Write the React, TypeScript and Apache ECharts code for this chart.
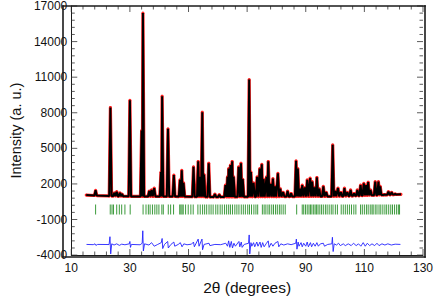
import React, { useEffect, useRef } from 'react';
import * as echarts from 'echarts';

// Measured range (2θ)
const scanStart = 15.1;
const scanEnd = 122.5;

// Background level
const bgTheta = [15.1, 20, 30, 45, 60, 80, 100, 122.5];
const bgInt = [1060, 1000, 950, 940, 900, 930, 950, 1120];

// Reflections: position (2θ) and peak intensity
const peakTheta = [
  18.3, 23.35, 24.7, 25.5, 26.6, 27.3, 30.0, 34.0, 34.45, 36.6, 37.4, 38.3, 40.6, 41.0, 43.0, 45.0,
  47.1, 47.7, 48.3, 51.7, 53.3, 53.9, 54.7, 55.3, 56.9, 59.0, 60.5, 62.6, 63.3, 63.7, 64.3, 64.9,
  65.4, 67.1, 67.9, 68.5, 70.7, 71.3, 72.2, 73.4, 74.3, 75.0, 75.6, 76.6, 77.2, 78.0, 78.8, 79.5,
  80.5, 81.3, 82.3, 83.8, 85.0, 86.7, 87.3, 88.0, 88.8, 89.7, 90.5, 91.5, 92.2, 93.0, 93.8, 94.6,
  96.0, 97.0, 99.2, 100.0, 101.0, 102.0, 103.2, 104.2, 105.3, 106.5, 107.6, 108.7, 109.8, 110.6,
  111.3, 112.1, 113.7, 114.8, 115.4, 116.8, 118.2, 119.3, 120.5,
];
const peakHeight = [
  1460, 8450, 1250, 1350, 1250, 1150, 9050, 6500, 16400, 1400, 1500, 1650, 3000, 9400, 6650, 2750,
  2350, 3150, 2100, 3450, 3900, 2600, 8050, 2800, 3750, 1150, 1100, 1900, 2600, 3300, 3600, 3900,
  2600, 3450, 3750, 2400, 10800, 3000, 2100, 2600, 3300, 3650, 2400, 2600, 3900, 2000, 2450, 1800,
  2900, 1600, 1300, 1400, 1200, 3950, 3300, 1600, 1900, 1700, 2350, 2500, 2200, 1700, 2550, 1600,
  1800, 1300, 5300, 1400, 1650, 1300, 1650, 1300, 1500, 1200, 1500, 1900, 2050, 1900,
  2150, 1500, 2200, 2200, 1800, 1100, 1350, 1300, 1150,
];

// Bragg reflection markers (2θ)
const braggTheta = [
  18.3, 23.3, 23.9, 24.4, 25.5, 26.4, 27.2, 28.3, 30.1, 34.5, 35.5, 36.3, 36.9, 37.7, 38.5, 39.2,
  39.9, 40.9, 41.4, 43.1, 43.9, 44.9, 47.0, 47.4, 47.8, 48.2, 49.0, 49.9, 50.8, 51.6, 53.2, 54.0,
  54.8, 55.5, 56.2, 57.0, 57.7, 58.4, 59.3, 60.0, 60.8, 61.5, 62.3, 63.0, 63.7, 64.3, 65.0, 65.8,
  66.5, 67.2, 68.0, 68.7, 69.4, 70.2, 70.8, 71.5, 72.3, 73.0, 73.6, 75.2, 75.8, 76.4, 77.1, 77.7,
  78.4, 79.0, 79.7, 80.3, 81.0, 81.6, 82.3, 83.0, 86.9, 88.8, 89.3, 89.9, 90.5, 91.1, 91.6, 92.1,
  92.7, 93.2, 93.7, 94.2, 94.8, 95.4, 96.0, 96.7, 97.3, 98.0, 98.7, 99.3, 100.1, 100.8, 102.1,
  102.8, 103.5, 104.2, 104.9, 105.6, 106.4, 107.1, 108.7, 109.3, 110.0, 110.7, 111.3, 112.0, 112.6,
  113.0, 113.7, 114.3, 115.0, 115.6, 116.3, 117.0, 117.6, 118.3, 119.0, 119.6, 120.3, 121.0, 121.6,
  122.0,
];
const braggLevel = -150;

// Difference curve (Yobs - Ycalc, offset)
const diffTheta = [
  15.2, 17.5, 18.1, 18.4, 19.0, 22.9, 23.2, 23.45, 23.8, 24.6, 25.5, 26.4, 27.2, 28.3, 29.8, 30.0,
  30.2, 30.5, 33.5, 34.2, 34.4, 34.6, 35.0, 36.5, 37.4, 38.3, 39.5, 40.7, 41.0, 41.2, 41.8, 42.9,
  43.1, 44.0, 45.0, 45.3, 46.5, 47.2, 47.8, 48.4, 49.5, 51.0, 51.7, 52.0, 53.3, 53.6, 54.6, 54.8,
  55.3, 57.0, 57.3, 59.0, 61.0, 62.7, 63.3, 63.7, 64.1, 64.6, 65.0, 65.5, 66.0, 67.2, 67.5, 68.0,
  68.3, 69.0, 70.5, 70.7, 70.9, 71.3, 71.6, 72.2, 72.6, 73.3, 73.7, 74.4, 74.8, 75.3, 75.8, 76.6,
  77.2, 77.5, 78.2, 78.8, 79.5, 80.5, 80.8, 81.5, 82.5, 83.8, 85.0, 86.6, 86.8, 87.0, 87.4, 87.7,
  88.4, 88.8, 89.3, 90.0, 90.5, 90.9, 91.6, 92.0, 92.6, 93.2, 93.8, 94.3, 95.0, 96.0, 96.4, 97.5,
  98.9, 99.1, 99.35, 99.7, 100.5, 101.2, 101.8, 102.8, 103.5, 104.5, 105.5, 106.3, 107.2, 108.0,
  108.8, 109.6, 110.3, 111.0, 111.8, 112.6, 113.5, 114.3, 115.0, 116.0, 117.0, 118.0, 119.2, 120.5,
  122.3,
];
const diffInt = [
  -3100, -3120, -3050, -3180, -3100, -3110, -2450, -3900, -3050, -3150, -3050, -3180, -3080, -3130, -3050, -2850,
  -3350, -3100, -3130, -3000, -1950, -3650, -3050, -3150, -2950, -3250, -3100, -2950, -2600, -3450, -3100, -2850,
  -3400, -3100, -2900, -3250, -3100, -2950, -3300, -3050, -3130, -3080, -2900, -3300, -2650, -3250, -2650, -3550,
  -3100, -3000, -3200, -3100, -3120, -3000, -3250, -2800, -3350, -2850, -3400, -3000, -3250, -2850, -3300, -2900,
  -3350, -3100, -3000, -2300, -3900, -2950, -3250, -2950, -3300, -2900, -3250, -2900, -3350, -2950, -3300, -3000,
  -2800, -3350, -3000, -3250, -3000, -2850, -3300, -3050, -3150, -3050, -3120, -3000, -2650, -3500, -2900, -3250,
  -2950, -3300, -3000, -3250, -2900, -3300, -2950, -3300, -3000, -3250, -2950, -3250, -3050, -3000, -3250, -3100,
  -3050, -2500, -3700, -3050, -3150, -3000, -3200, -3050, -3200, -3050, -3200, -3000, -3200, -3050,
  -3250, -2950, -3250, -3000, -3200, -3050, -3200, -3000, -3200, -3050, -3150, -3050, -3150, -3080,
  -3100,
];

// Axis extents and tick positions
const xMin = 10, xMax = 130, xStep = 20;
const yMin = -4000, yMax = 17000, yStep = 3000;
const xMajorTicks = [10, 30, 50, 70, 90, 110, 130];
const xMinorTicks = [14, 18, 22, 26, 34, 38, 42, 46, 54, 58, 62, 66, 74, 78, 82, 86, 94, 98, 102, 106, 114, 118, 122, 126];
const yMajorTicks = [-4000, -1000, 2000, 5000, 8000, 11000, 14000, 17000];
const yMinorTicks = [
  -3400, -2800, -2200, -1600, -400, 200, 800, 1400, 2600, 3200, 3800, 4400, 5600, 6200, 6800, 7400,
  8600, 9200, 9800, 10400, 11600, 12200, 12800, 13400, 14600, 15200, 15800, 16400,
];

const FONT = 'Arial, "Liberation Sans", Helvetica, sans-serif';
const G = { left: 63, right: 11, top: 6, bottom: 43 };
const W = 436, H = 300;
const FRAME = '#1a1a1a';
const TICK = '#333';

function bgAt(t: number): number {
  for (let i = 0; i < bgTheta.length - 1; i++) {
    if (t <= bgTheta[i + 1]) {
      const f = (t - bgTheta[i]) / (bgTheta[i + 1] - bgTheta[i]);
      return bgInt[i] + f * (bgInt[i + 1] - bgInt[i]);
    }
  }
  return bgInt[bgInt.length - 1];
}

// Profile vertices: each reflection drawn as a sharp peak on the background
function buildProfile(): [number, number][] {
  const pts: [number, number][] = [[scanStart, bgAt(scanStart)]];
  const w = 0.4;
  const n = peakTheta.length;
  for (let i = 0; i < n; i++) {
    const p = peakTheta[i];
    const left = i > 0 ? Math.max(p - w, (peakTheta[i - 1] + p) / 2) : p - w;
    const right = i < n - 1 ? Math.min(p + w, (p + peakTheta[i + 1]) / 2) : p + w;
    const last = pts[pts.length - 1][0];
    if (left > last + 1e-6) pts.push([left, bgAt(left)]);
    pts.push([p, peakHeight[i]]);
    pts.push([right, bgAt(right)]);
  }
  pts.push([scanEnd, bgAt(scanEnd)]);
  return pts;
}

const plainLabel = (v: number) => String(v);

function tickSeries(data: number[][], size: number[], offset: number[], color: string) {
  return {
    type: 'scatter', data, xAxisIndex: 0, yAxisIndex: 0,
    symbol: 'rect', symbolSize: size, symbolOffset: offset,
    itemStyle: { color }, silent: true, clip: false, z: 10,
  };
}

export default function App() {
  const ref = useRef<HTMLDivElement>(null);
  useEffect(() => {
    document.body.style.margin = '0';
    const chart = echarts.init(ref.current!, null, { renderer: 'svg' });
    const profile = buildProfile();
    const diff = diffTheta.map((t, i) => [t, diffInt[i]]);
    const bragg = braggTheta.map((t) => [t, braggLevel]);
    const gx0 = G.left, gx1 = W - G.right, gy0 = G.top, gy1 = H - G.bottom;
    const bw = 1.6;
    chart.setOption({
      animation: false,
      backgroundColor: '#fff',
      grid: { left: G.left, right: G.right, top: G.top, bottom: G.bottom },
      xAxis: {
        type: 'value', min: xMin, max: xMax, interval: xStep, position: 'bottom',
        axisLine: { show: true, onZero: false, lineStyle: { color: FRAME, width: 1 } },
        axisTick: { show: false },
        splitLine: { show: false },
        axisLabel: { fontSize: 12, color: '#111', margin: 7, fontFamily: FONT, formatter: plainLabel },
        name: '2θ (degrees)', nameLocation: 'middle', nameGap: 23,
        nameTextStyle: { fontSize: 15.5, color: '#111', fontFamily: FONT },
      },
      yAxis: {
        type: 'value', min: yMin, max: yMax, interval: yStep, position: 'left',
        axisLine: { show: true, onZero: false, lineStyle: { color: FRAME, width: 1 } },
        axisTick: { show: false },
        splitLine: { show: false },
        axisLabel: { fontSize: 12, color: '#111', margin: 4, fontFamily: FONT, formatter: plainLabel },
        name: 'Intensity (a. u.)', nameLocation: 'middle', nameGap: 39,
        nameTextStyle: { fontSize: 14.5, color: '#111', fontFamily: FONT },
      },
      graphic: [
        { type: 'rect', silent: true, z: 20, shape: { x: gx0 - bw / 2, y: gy0 - bw / 2, width: bw, height: gy1 - gy0 + bw }, style: { fill: FRAME } },
        { type: 'rect', silent: true, z: 20, shape: { x: gx1 - bw / 2, y: gy0 - bw / 2, width: bw, height: gy1 - gy0 + bw }, style: { fill: FRAME } },
        { type: 'rect', silent: true, z: 20, shape: { x: gx0 - bw / 2, y: gy0 - bw / 2, width: gx1 - gx0 + bw, height: bw }, style: { fill: FRAME } },
        { type: 'rect', silent: true, z: 20, shape: { x: gx0 - bw / 2, y: gy1 - bw / 2, width: gx1 - gx0 + bw, height: bw }, style: { fill: FRAME } },
      ],
      series: [
        {
          type: 'line', name: 'Observed', data: profile,
          lineStyle: { color: '#ff2020', width: 3.2 },
          symbol: 'circle', symbolSize: 3, showSymbol: true,
          itemStyle: { color: '#ff2020' }, silent: true, z: 2,
        },
        {
          type: 'line', name: 'Calculated', data: profile,
          lineStyle: { color: '#000', width: 2 }, symbol: 'none', silent: true, z: 3,
        },
        {
          type: 'scatter', name: 'Bragg', data: bragg,
          symbol: 'rect', symbolSize: [1, 10],
          itemStyle: { color: '#1a8a1a', opacity: 0.85 }, silent: true, z: 2,
        },
        {
          type: 'line', name: 'Difference', data: diff,
          lineStyle: { color: '#2222ff', width: 0.9 }, symbol: 'none', silent: true, z: 2,
        },
        // axis ticks (inside), drawn on the frame
        tickSeries(xMajorTicks.map((v) => [v, yMin]), [1, 6], [0, -3], TICK),
        tickSeries(xMajorTicks.map((v) => [v, yMax]), [1, 6], [0, 3], TICK),
        tickSeries(xMinorTicks.map((v) => [v, yMin]), [1, 3.5], [0, -1.75], TICK),
        tickSeries(xMinorTicks.map((v) => [v, yMax]), [1, 3.5], [0, 1.75], TICK),
        tickSeries(yMajorTicks.map((v) => [xMin, v]), [6, 1], [3, 0], TICK),
        tickSeries(yMajorTicks.map((v) => [xMax, v]), [6, 1], [-3, 0], TICK),
        tickSeries(yMinorTicks.map((v) => [xMin, v]), [3.5, 1], [1.75, 0], TICK),
        tickSeries(yMinorTicks.map((v) => [xMax, v]), [3.5, 1], [-1.75, 0], TICK),
      ],
    });
    return () => chart.dispose();
  }, []);
  return (
    <div
      ref={ref}
      style={{ width: W, height: H, position: 'fixed', left: 0, top: 0, background: '#fff' }}
    />
  );
}
